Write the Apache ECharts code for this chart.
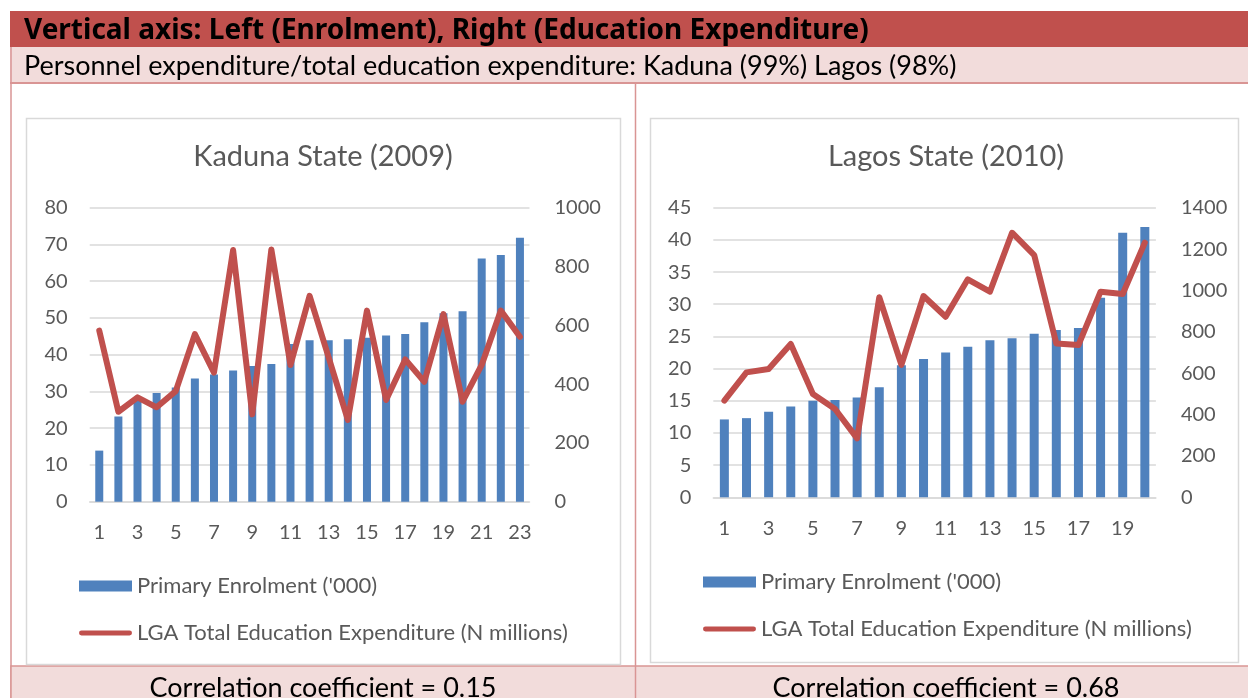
<!DOCTYPE html>
<html>
<head>
<meta charset="utf-8">
<script src="https://cdn.jsdelivr.net/npm/echarts@6/dist/echarts.min.js"></script>
<style>
  html, body { margin: 0; padding: 0; background: #fff; }
  #main { width: 1248px; height: 698px; }
</style>
</head>
<body>
<div id="main"></div>
<script>
// Kaduna State (2009), 23 LGAs
var kadunaLgas = ['1','2','3','4','5','6','7','8','9','10','11','12','13','14','15','16','17','18','19','20','21','22','23'];
var kadunaEnrolment = [13.9, 23.2, 28.0, 29.6, 31.1, 33.5, 34.6, 35.7, 36.9, 37.5, 42.9, 43.9, 43.9, 44.2, 44.6, 45.2, 45.6, 48.8, 51.3, 51.8, 66.2, 67.1, 71.8];
var kadunaExpenditure = [582, 306, 355, 321, 376, 570, 439, 856, 297, 858, 465, 700, 490, 278, 650, 346, 484, 408, 638, 340, 465, 650, 561];

// Lagos State (2010), 20 LGAs
var lagosLgas = ['1','2','3','4','5','6','7','8','9','10','11','12','13','14','15','16','17','18','19','20'];
var lagosEnrolment = [12.1, 12.3, 13.3, 14.1, 15.0, 15.1, 15.5, 17.1, 20.5, 21.5, 22.5, 23.4, 24.4, 24.7, 25.4, 26.0, 26.3, 31.0, 41.1, 42.0];
var lagosExpenditure = [467, 604, 620, 741, 499, 427, 285, 967, 640, 973, 873, 1054, 994, 1279, 1171, 744, 736, 994, 983, 1231];

var barName = "Primary Enrolment ('000)";
var lineName = 'LGA Total Education Expenditure (N millions)';

var blue = '#4F81BD';
var red = '#C0504D';
var grey = '#595959';
var gridGrey = '#D9D9D9';
var border = '#D99594';
var font = 'Lato, "Open Sans", sans-serif';

function plain(v) { return String(v); }

function yAxisLeft(gridIndex, max, interval) {
    return {
        type: 'value', gridIndex: gridIndex, position: 'left',
        min: 0, max: max, interval: interval,
        axisLine: { show: false }, axisTick: { show: false },
        axisLabel: { color: grey, fontSize: 20, fontFamily: font, margin: 22, formatter: plain },
        splitLine: { lineStyle: { color: gridGrey, width: 1.5 } }
    };
}
function yAxisRight(gridIndex, max, interval) {
    return {
        type: 'value', gridIndex: gridIndex, position: 'right',
        min: 0, max: max, interval: interval,
        axisLine: { show: false }, axisTick: { show: false },
        axisLabel: { color: grey, fontSize: 20, fontFamily: font, margin: 25, formatter: plain },
        splitLine: { show: false }
    };
}
function xAxis(gridIndex, data) {
    return {
        type: 'category', gridIndex: gridIndex, data: data,
        axisLine: { lineStyle: { color: gridGrey, width: 1.5 } },
        axisTick: { show: false },
        axisLabel: { color: grey, fontSize: 20, fontFamily: font, margin: 21, interval: 1 }
    };
}
function legendFor(left, top) {
    return {
        orient: 'vertical', left: left, top: top, padding: 0,
        itemWidth: 53, itemHeight: 11, itemGap: 25,
        data: [
            { name: barName, icon: 'rect' },
            { name: lineName, icon: 'path://M2.5,0 L51.5,0 A2.5,2.5 0 0 1 51.5,5 L2.5,5 A2.5,2.5 0 0 1 2.5,0 Z' }
        ],
        textStyle: { color: grey, fontSize: 22, fontFamily: font, lineHeight: 20 },
        selectedMode: false
    };
}

var option = {
    animation: false,
    backgroundColor: '#fff',
    graphic: [
        // table frame
        { type: 'rect', z: 0, shape: { x: 10, y: 11, width: 1240, height: 36 }, style: { fill: '#C0504D' } },
        { type: 'rect', z: 0, shape: { x: 10, y: 47, width: 1240, height: 36 }, style: { fill: '#F2DCDB' } },
        { type: 'line', z: 0, shape: { x1: 10, y1: 83, x2: 1248, y2: 83 }, style: { stroke: border, lineWidth: 2 } },
        { type: 'line', z: 0, shape: { x1: 11, y1: 47, x2: 11, y2: 698 }, style: { stroke: border, lineWidth: 1.5 } },
        { type: 'line', z: 0, shape: { x1: 635.5, y1: 83, x2: 635.5, y2: 698 }, style: { stroke: border, lineWidth: 1.5 } },
        { type: 'rect', z: 0, shape: { x: 11, y: 666, width: 1240, height: 40 }, style: { fill: '#F2DCDB', stroke: border, lineWidth: 1.5 } },
        { type: 'line', z: 0, shape: { x1: 635.5, y1: 666, x2: 635.5, y2: 698 }, style: { stroke: border, lineWidth: 1.5 } },
        { type: 'text', z: 1, style: { x: 24, y: 31, text: 'Vertical axis: Left (Enrolment), Right (Education Expenditure)', fill: '#000', font: 'bold 28px "Noto Sans", sans-serif', textVerticalAlign: 'middle' } },
        { type: 'text', z: 1, style: { x: 24, y: 66, text: 'Personnel expenditure/total education expenditure: Kaduna (99%) Lagos (98%)', fill: '#000', font: '27px ' + font, textVerticalAlign: 'middle' } },
        { type: 'text', z: 1, style: { x: 323, y: 688, text: 'Correlation coefficient = 0.15', fill: '#000', font: '27px ' + font, textAlign: 'center', textVerticalAlign: 'middle' } },
        { type: 'text', z: 1, style: { x: 946, y: 688, text: 'Correlation coefficient = 0.68', fill: '#000', font: '27px ' + font, textAlign: 'center', textVerticalAlign: 'middle' } },
        // chart boxes
        { type: 'rect', z: 0, shape: { x: 26.5, y: 118.5, width: 594, height: 546 }, style: { fill: '#fff', stroke: gridGrey, lineWidth: 1.5 } },
        { type: 'rect', z: 0, shape: { x: 650.5, y: 118.5, width: 588, height: 544 }, style: { fill: '#fff', stroke: gridGrey, lineWidth: 1.5 } }
    ],
    title: [
        { text: 'Kaduna State (2009)', left: 323, textAlign: 'center', top: 142, padding: 0,
          textStyle: { color: grey, fontSize: 29, fontWeight: 'normal', fontFamily: font } },
        { text: 'Lagos State (2010)', left: 946, textAlign: 'center', top: 142, padding: 0,
          textStyle: { color: grey, fontSize: 29, fontWeight: 'normal', fontFamily: font } }
    ],
    legend: [legendFor(79, 575), legendFor(703, 571)],
    grid: [
        { left: 89.7, top: 207.7, width: 439.8, height: 294, containLabel: false },
        { left: 713.3, top: 207.7, width: 442.6, height: 289.6, containLabel: false }
    ],
    xAxis: [xAxis(0, kadunaLgas), xAxis(1, lagosLgas)],
    yAxis: [yAxisLeft(0, 80, 10), yAxisRight(0, 1000, 200), yAxisLeft(1, 45, 5), yAxisRight(1, 1400, 200)],
    series: [
        { name: barName, type: 'bar', xAxisIndex: 0, yAxisIndex: 0, data: kadunaEnrolment, barWidth: 8, itemStyle: { color: blue } },
        { name: lineName, type: 'line', xAxisIndex: 0, yAxisIndex: 1, data: kadunaExpenditure, symbol: 'none',
          lineStyle: { color: red, width: 6, cap: 'round', join: 'round' }, itemStyle: { color: red } },
        { name: barName, type: 'bar', xAxisIndex: 1, yAxisIndex: 2, data: lagosEnrolment, barWidth: 9, itemStyle: { color: blue } },
        { name: lineName, type: 'line', xAxisIndex: 1, yAxisIndex: 3, data: lagosExpenditure, symbol: 'none',
          lineStyle: { color: red, width: 6, cap: 'round', join: 'round' }, itemStyle: { color: red } }
    ]
};

var myChart = echarts.init(document.getElementById('main'));
myChart.setOption(option);
</script>
</body>
</html>
